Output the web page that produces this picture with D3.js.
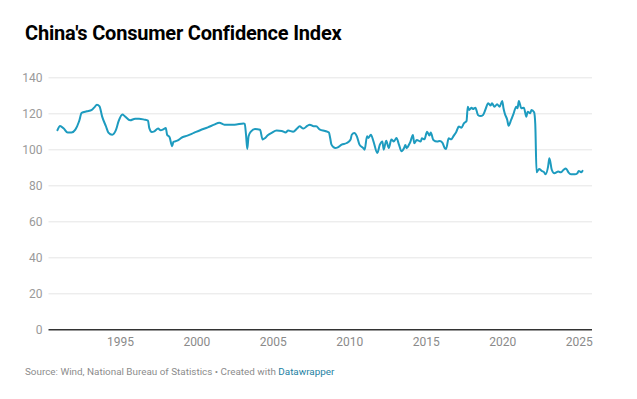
<!DOCTYPE html>
<html>
<head>
<meta charset="utf-8">
<script src="https://cdn.jsdelivr.net/npm/d3@7"></script>
<style>
  body { margin: 0; background: #fff; }
  svg { display: block; font-family: Roboto, "Noto Sans", sans-serif; }
</style>
</head>
<body>
<svg id="chart" width="637" height="399"></svg>
<script>
// months (YYYY-MM) and index values
var months = [
  "1990-12","1991-02","1991-05","1991-08","1991-11","1992-02","1992-05","1992-07","1992-11",
  "1993-03","1993-05","1993-07","1993-09","1993-11","1994-02","1994-04","1994-07","1994-10","1994-12",
  "1995-03","1995-05","1995-09","1996-01","1996-04","1996-08","1996-11","1996-12",
  "1997-02","1997-04","1997-07","1997-09","1997-11","1998-01","1998-02","1998-04","1998-06","1998-07","1998-10",
  "1999-02","1999-06","1999-11","2000-04","2000-10","2001-03","2001-07","2001-11","2002-07",
  "2003-02","2003-03","2003-04","2003-05","2003-06","2003-08","2003-11",
  "2004-03","2004-05","2004-07","2004-09","2004-12","2005-04","2005-08","2005-11",
  "2006-01","2006-05","2006-08","2006-10","2007-01","2007-04","2007-06","2007-09","2007-11",
  "2008-02","2008-06","2008-09","2008-10","2008-11","2009-02","2009-04","2009-07","2009-11",
  "2010-02","2010-03","2010-05","2010-07","2010-09","2010-12","2011-01","2011-03","2011-04","2011-06","2011-08","2011-11",
  "2012-01","2012-03","2012-04","2012-06","2012-08","2012-10","2012-12",
  "2013-02","2013-04","2013-06","2013-08","2013-09","2013-10","2013-12",
  "2014-01","2014-03","2014-04","2014-06","2014-09","2014-10","2014-12",
  "2015-02","2015-04","2015-05","2015-07","2015-10","2015-12",
  "2016-02","2016-04","2016-05","2016-07","2016-09","2016-11",
  "2017-01","2017-03","2017-05","2017-07","2017-09","2017-10","2017-11",
  "2018-01","2018-02","2018-04","2018-06","2018-08","2018-10","2018-12",
  "2019-02","2019-04","2019-05","2019-07","2019-09","2019-11",
  "2020-01","2020-02","2020-03","2020-05","2020-06","2020-08","2020-10","2020-12",
  "2021-01","2021-02","2021-04","2021-06","2021-08","2021-09","2021-11","2021-12",
  "2022-02","2022-03","2022-04","2022-06","2022-08","2022-10","2022-11",
  "2023-01","2023-02","2023-04","2023-06","2023-09","2023-11",
  "2024-01","2024-03","2024-05","2024-07","2024-10","2024-12",
  "2025-01","2025-03","2025-04"
];
var cci = [
  110.6,113.0,111.5,109.3,109.3,110.9,115.6,120.2,121.1,
  121.9,123.3,124.8,123.9,118.3,112.8,109.3,108.1,110.9,115.6,
  119.3,118.3,116.1,117.0,117.0,116.5,115.9,111.9,
  109.6,110.0,111.5,110.6,111.1,111.9,108.1,106.7,101.7,104.1,104.8,
  106.7,107.6,109.1,110.6,112.2,113.7,114.8,113.7,113.7,
  114.4,114.2,108.1,100.2,107.2,110.0,111.3,
  110.9,105.4,106.3,107.8,109.1,110.4,110.2,109.4,
  110.4,109.8,111.5,112.8,111.5,113.0,113.7,112.8,112.8,
  110.9,110.2,109.3,106.3,102.6,100.7,101.1,102.6,103.5,
  105.4,108.1,109.1,107.2,102.6,100.7,99.8,107.2,106.3,108.1,104.4,98.0,
  102.6,104.4,99.8,104.8,100.7,105.4,104.4,
  106.3,102.6,98.9,100.7,102.4,100.6,102.8,
  104.3,108.0,103.3,105.2,104.3,106.1,105.6,
  109.8,107.6,109.4,105.2,104.3,104.6,
  103.7,100.6,100.2,106.1,105.6,107.6,
  109.8,112.6,112.0,114.4,115.7,123.7,121.9,
  123.1,122.4,123.1,119.1,118.5,119.1,122.4,
  125.6,124.3,125.6,123.7,125.0,123.7,
  126.9,122.8,120.0,116.3,113.1,116.3,120.0,123.7,
  122.8,126.9,122.8,123.1,118.1,120.9,120.0,121.9,
  120.6,114.0,87.2,89.1,88.0,87.2,86.1,
  90.4,95.0,88.5,86.7,87.6,87.2,
  88.5,89.4,87.2,86.1,86.1,86.7,
  88.0,87.2,88.0
];
var yTicks = [0, 20, 40, 60, 80, 100, 120, 140];
var xTickYears = [1995, 2000, 2005, 2010, 2015, 2020, 2025];

var parseMonth = d3.timeParse("%Y-%m");
var data = months.map(function(m, i) { return { date: parseMonth(m), value: cci[i] }; });

var svg = d3.select("#chart");
var plot = { left: 48.5, right: 592, top: 77.3, bottom: 329.3 };

var x = d3.scaleTime()
    .domain([new Date(1990, 4, 1), new Date(2025, 10, 15)])
    .range([plot.left, plot.right]);
var y = d3.scaleLinear().domain([0, 140]).range([plot.bottom, plot.top]);

// title
svg.append("text")
    .attr("x", 25).attr("y", 40)
    .attr("font-size", 20).attr("font-weight", 700)
    .attr("fill", "#000")
    .attr("letter-spacing", "-0.2")
    .text("China's Consumer Confidence Index");

// grid + y labels
var yAxis = svg.append("g")
    .attr("transform", "translate(" + plot.left + ",0)")
    .call(d3.axisLeft(y).tickValues(yTicks).tickSize(-(plot.right - plot.left)).tickPadding(6));
yAxis.select(".domain").remove();
yAxis.selectAll(".tick line").attr("stroke", "#e5e5e5").attr("stroke-width", 1);
yAxis.selectAll(".tick text").attr("fill", "#9a9a9a").attr("font-size", 12).attr("font-family", "Roboto");
yAxis.selectAll(".tick").filter(function(d) { return d === 0; }).select("line")
    .attr("stroke", "#333").attr("stroke-width", 1.5);

// x labels
var xAxis = svg.append("g")
    .attr("transform", "translate(0," + plot.bottom + ")")
    .call(d3.axisBottom(x)
      .tickValues(xTickYears.map(function(yr) { return new Date(yr, 0, 1); }))
      .tickFormat(d3.timeFormat("%Y"))
      .tickSize(0).tickPadding(8));
xAxis.select(".domain").remove();
xAxis.selectAll(".tick text").attr("fill", "#8a8a8a").attr("font-size", 12).attr("font-family", "Roboto");

// line
var line = d3.line()
    .curve(d3.curveMonotoneX)
    .x(function(d) { return x(d.date); })
    .y(function(d) { return y(d.value); });

svg.append("path")
    .datum(data)
    .attr("fill", "none")
    .attr("stroke", "#1d9bbf")
    .attr("stroke-width", 2)
    .attr("stroke-linejoin", "round")
    .attr("stroke-linecap", "round")
    .attr("d", line);

// source
var src = svg.append("text")
    .attr("x", 25).attr("y", 375)
    .attr("font-size", 9.9).attr("fill", "#8c8c8c");
src.append("tspan").text("Source: Wind, National Bureau of Statistics \u2022 Created with ");
src.append("tspan").attr("fill", "#1d81a2").text("Datawrapper");
</script>
</body>
</html>
